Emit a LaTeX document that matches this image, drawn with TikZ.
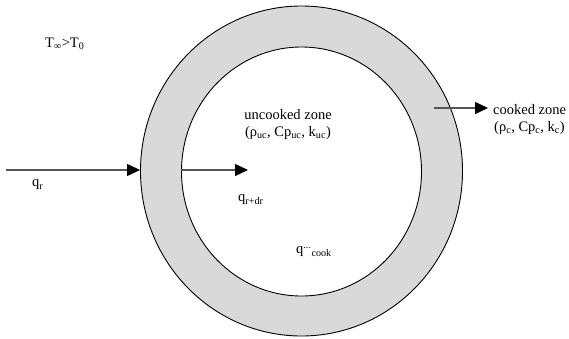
\documentclass[tikz,border=0pt]{standalone}
\usepackage{fontspec}
\setmainfont{Liberation Serif}
\usepackage{xcolor}
\usepackage{tikz}
\usetikzlibrary{arrows.meta,positioning,shapes.geometric}
\definecolor{Ring}{HTML}{D9D9D9}
\definecolor{Flux}{HTML}{555555}

\begin{document}
\begin{tikzpicture}[x=1pt,y=-1pt,
  flux/.style={draw=Flux,line width=1.3pt,-{Triangle[length=13pt,width=12pt,color=black]}},
  lbl/.style={inner sep=0pt,font=\fontsize{14.5}{17}\selectfont}]
\useasboundingbox (0,0) rectangle (569,338);
\begin{scope}
% ring of cooked food and uncooked core
\node[ellipse,draw,line width=0.9pt,fill=Ring,minimum width=322pt,minimum height=330pt,inner sep=0pt] (outer) at (301.5,171) {};
\node[ellipse,draw,line width=0.9pt,fill=white,minimum width=240pt,minimum height=249pt,inner sep=0pt] (inner) at (301.5,171.5) {};
\end{scope}
\coordinate (qin) at (6,170);
\coordinate (qout) at (248,170);
\coordinate (cstart) at (434,108);
\coordinate (cend) at (488,108);
\draw[flux] (qin) -- (qin -| outer.west);
\draw[flux] (qout -| inner.west) -- (qout);
\draw[flux] (cstart) -- (cend);
\node[lbl,anchor=west] (tinf) at (45,44) {T\textsubscript{∞}>T\textsubscript{0}};
\node[lbl] (uz) at (288,115) {uncooked zone};
\node[lbl] (uzp) at (288,133) {(ρ\textsubscript{uc}, Cp\textsubscript{uc}, k\textsubscript{uc})};
\node[lbl,anchor=west] (cz) at (493,110) {cooked zone};
\node[lbl,anchor=west] (czp) at (494,128) {(ρ\textsubscript{c}, Cp\textsubscript{c}, k\textsubscript{c})};
\node[lbl,anchor=west] (qr) at (32,185) {q\textsubscript{r}};
\node[lbl,anchor=west] (qrdr) at (238,200) {q\textsubscript{r+dr}};
\node[lbl,anchor=west] (qcook) at (296,252) {q\textsuperscript{...}\textsubscript{cook}};
\end{tikzpicture}
\end{document}
